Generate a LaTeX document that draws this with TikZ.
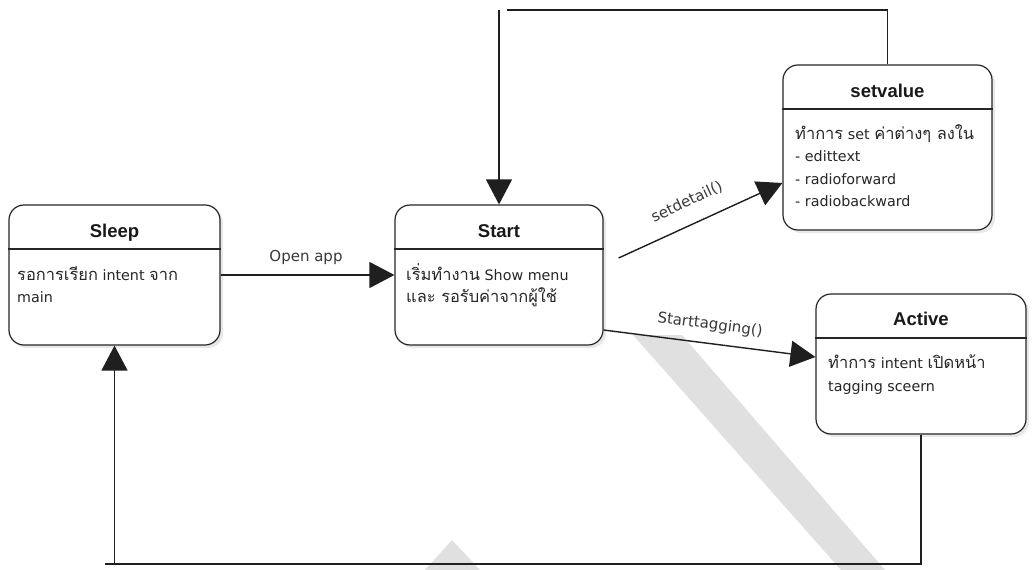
\documentclass[tikz,border=0pt]{standalone}
\usepackage{fontspec}
\setmainfont{DejaVu Sans}
\newfontfamily\thai[Script=Thai,Scale=1.15]{Loma}
\newfontfamily\titlefont{Liberation Sans}
\usetikzlibrary{arrows.meta,shadows,calc}
\begin{document}
\begin{tikzpicture}[x=1pt,y=-1pt,
  statebox/.style={draw=black!85,line width=1.2pt,rounded corners=15pt,fill=white,
    drop shadow={shadow xshift=3pt,shadow yshift=-3pt,opacity=0.18},inner sep=0pt},
  divider/.style={draw=black!85,line width=1.1pt},
  titletext/.style={font=\titlefont\bfseries\fontsize{18.5}{22}\selectfont,anchor=base,inner sep=0pt,text=black!90},
  bodytext/.style={font=\fontsize{14.3}{22}\selectfont,anchor=base west,inner sep=0pt,text=black!85},
  conn/.style={draw=black!88,line width=1.4pt},
  bigtip/.style={-{Triangle[length=25pt,width=26pt]}},
  edgelabel/.style={font=\fontsize{15}{18}\selectfont,text=black!78,inner sep=0pt},
  watermark/.style={fill=black!12,draw=none}
]
\useasboundingbox (0,0) rectangle (1033,570);
\fill[white] (0,0) rectangle (1033,570);
% faint watermark bands
\path[watermark] (633,335) -- (682,335) -- (885,570) -- (841,570) -- cycle;
\path[watermark] (452,540) -- (480,570) -- (425,570) -- cycle;

% boxes
\node[statebox,minimum width=211pt,minimum height=140pt] (sleep) at (114.5,275) {};
\node[statebox,minimum width=208pt,minimum height=140pt] (start) at (499,275) {};
\node[statebox,minimum width=209pt,minimum height=165pt] (setv) at (887.5,147.5) {};
\node[statebox,minimum width=210pt,minimum height=140pt] (active) at (921,364) {};

\draw[divider] (sleep.west |- 0,249) -- (sleep.east |- 0,249);
\draw[divider] (start.west |- 0,249) -- (start.east |- 0,249);
\draw[divider] (setv.west |- 0,109) -- (setv.east |- 0,109);
\draw[divider] (active.west |- 0,338) -- (active.east |- 0,338);

% titles
\node[titletext] (sleepT) at (114.5,237) {Sleep};
\node[titletext] (startT) at (499,237) {Start};
\node[titletext] (setvT) at (887.5,97) {setvalue};
\node[titletext] (activeT) at (921,325) {Active};

% body texts
\node[bodytext] (sleepA) at (17,280) {{\thai รอการเรียก} intent {\thai จาก}};
\node[bodytext] (sleepB) at (17,302) {main};
\node[bodytext] (startA) at (406,280) {{\thai เริ่มทำงาน} Show menu};
\node[bodytext] (startB) at (406,302) {{\thai และ รอรับค่าจากผู้ใช้}};
\node[bodytext] (setvA) at (795,139) {{\thai ทำการ} set {\thai ค่าต่างๆ ลงใน}};
\node[bodytext] (setvB) at (795,161) {- edittext};
\node[bodytext] (setvC) at (795,184) {- radioforward};
\node[bodytext] (setvD) at (795,206) {- radiobackward};
\node[bodytext] (activeA) at (828,368) {{\thai ทำการ} intent {\thai เปิดหน้า}};
\node[bodytext] (activeB) at (828,391) {tagging sceern};

% connectors
\draw[conn,bigtip] (sleep.east) -- (start.west);
\node[edgelabel] (lblopen) at (306,257) {Open app};

\coordinate (sdFrom) at ($(start.east)+(15,-17)$);
\coordinate (sdTo) at ($(setv.west)+(0,35.5)$);
\draw[conn,bigtip] (sdFrom) -- (sdTo);
\node[edgelabel,rotate=25] (lblsd) at (687,202) {setdetail()};

\coordinate (stFrom) at ($(start.east)+(0,55)$);
\coordinate (stTo) at ($(active.west)+(0,-7)$);
\draw[conn,bigtip] (stFrom) -- (stTo);
\node[edgelabel,rotate=-7.5] (lblst) at (710,325) {Starttagging()};

% loop from setvalue back to Start
\coordinate (topEnd) at (507,10);
\coordinate (topDrop) at (499,10);
\draw[conn] (setv.north) -- (setv.north |- topEnd) -- (topEnd);
\draw[conn,bigtip] (topDrop) -- (start.north);

% loop from Active back to Sleep
\coordinate (botEnd) at (105,564);
\coordinate (botRise) at (114.5,564);
\draw[conn] (active.south) -- (active.south |- botEnd) -- (botEnd);
\draw[conn,bigtip] (botRise) -- (sleep.south);
\end{tikzpicture}
\end{document}
